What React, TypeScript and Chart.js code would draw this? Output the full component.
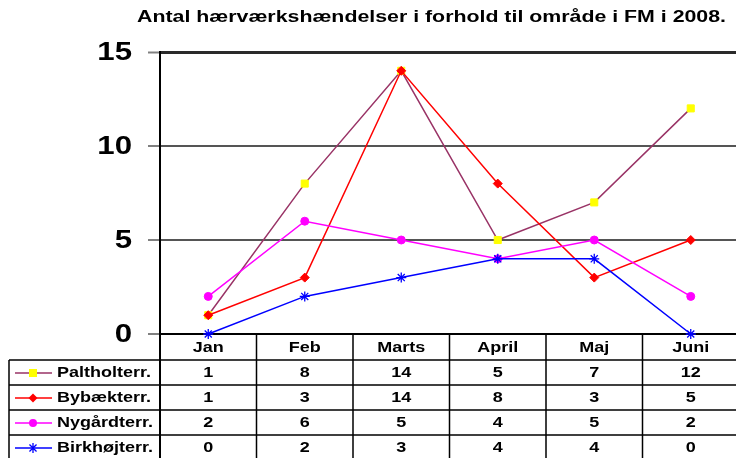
import React, { useEffect, useRef } from 'react';
import { Chart, registerables } from 'chart.js';

Chart.register(...registerables);

const TITLE = 'Antal hærværkshændelser i forhold til område i FM i 2008.';
const MONTHS = ['Jan', 'Feb', 'Marts', 'April', 'Maj', 'Juni'];
const SERIES_NAMES = ['Paltholterr.', 'Bybækterr.', 'Nygårdterr.', 'Birkhøjterr.'];
const PALTHOLT = [1, 8, 14, 5, 7, 12];
const BYBAEK = [1, 3, 14, 8, 3, 5];
const NYGAARD = [2, 6, 5, 4, 5, 2];
const BIRKHOEJ = [0, 2, 3, 4, 4, 0];
const Y_TICKS = [0, 5, 10, 15];

const FONT = '"Liberation Sans", Arial, Helvetica, sans-serif';

const SERIES = [
  { name: SERIES_NAMES[0], data: PALTHOLT, line: '#993366', marker: '#ffff00', style: 'rect', radius: 5, order: 4 },
  { name: SERIES_NAMES[1], data: BYBAEK, line: '#ff0000', marker: '#ff0000', style: 'rectRot', radius: 4.5, order: 3 },
  { name: SERIES_NAMES[2], data: NYGAARD, line: '#ff00ff', marker: '#ff00ff', style: 'circle', radius: 4, order: 2 },
  { name: SERIES_NAMES[3], data: BIRKHOEJ, line: '#0000ff', marker: '#0000ff', style: 'star', radius: 5, order: 1 },
];

// Draws bold text horizontally stretched by sx (the reference uses a wide rendering)
function drawText(
  ctx: CanvasRenderingContext2D,
  text: string,
  x: number,
  y: number,
  size: number,
  align: CanvasTextAlign,
  sx: number
) {
  ctx.save();
  ctx.font = `bold ${size}px ${FONT}`;
  (ctx as any).letterSpacing = '0px';
  ctx.textAlign = align;
  ctx.textBaseline = 'middle';
  ctx.fillStyle = '#000';
  ctx.translate(x, y);
  ctx.scale(sx, 1);
  ctx.fillText(text, 0, 0);
  ctx.restore();
}

function drawMarker(ctx: CanvasRenderingContext2D, style: string, color: string, x: number, y: number) {
  ctx.save();
  ctx.fillStyle = color;
  ctx.strokeStyle = color;
  ctx.lineWidth = 1.3;
  ctx.beginPath();
  if (style === 'rect') {
    ctx.fillRect(x - 4, y - 4, 8, 8);
  } else if (style === 'rectRot') {
    ctx.moveTo(x, y - 4.5);
    ctx.lineTo(x + 4.5, y);
    ctx.lineTo(x, y + 4.5);
    ctx.lineTo(x - 4.5, y);
    ctx.closePath();
    ctx.fill();
  } else if (style === 'circle') {
    ctx.arc(x, y, 4, 0, Math.PI * 2);
    ctx.fill();
  } else {
    const r = 5;
    const d = r * Math.SQRT1_2;
    ctx.moveTo(x, y - r);
    ctx.lineTo(x, y + r);
    ctx.moveTo(x - d, y - d);
    ctx.lineTo(x + d, y + d);
    ctx.moveTo(x - d, y + d);
    ctx.lineTo(x + d, y - d);
    ctx.stroke();
  }
  ctx.restore();
}

const tablePlugin = {
  id: 'tablePlugin',
  afterDraw(chart: any) {
    const ctx: CanvasRenderingContext2D = chart.ctx;
    const xs = chart.scales.x;
    const ys = chart.scales.y;
    const area = chart.chartArea;
    const H = chart.height;
    const W = chart.width;
    ctx.save();
    const SX = 1.2;

    // Title, stretched to the reference width
    ctx.font = `bold 16px ${FONT}`;
    (ctx as any).letterSpacing = '0px';
    const tw = ctx.measureText(TITLE).width;
    const targetW = 589;
    drawText(ctx, TITLE, 137, 18, 16, 'left', targetW / tw);

    // Y tick labels
    Y_TICKS.forEach((v) => {
      drawText(ctx, String(v), 132, ys.getPixelForValue(v) + 1, 26, 'right', SX);
    });

    // Table
    const headerH = 26;
    const rowH = 25;
    const tableLeft = 9;
    const band = (area.right - area.left) / MONTHS.length;
    ctx.strokeStyle = '#000';
    ctx.lineWidth = 1.5;
    ctx.beginPath();
    for (let r = 0; r < SERIES.length; r++) {
      const yy = area.bottom + headerH + r * rowH;
      ctx.moveTo(tableLeft, yy);
      ctx.lineTo(W, yy);
    }
    ctx.moveTo(tableLeft, area.bottom + headerH);
    ctx.lineTo(tableLeft, H);
    for (let k = 1; k <= MONTHS.length; k++) {
      const xx = area.left + k * band;
      ctx.moveTo(xx, area.bottom);
      ctx.lineTo(xx, H);
    }
    ctx.stroke();
    ctx.lineWidth = 2;
    ctx.beginPath();
    ctx.moveTo(area.left, area.bottom);
    ctx.lineTo(area.left, H);
    ctx.stroke();

    // Header labels
    MONTHS.forEach((m, i) => {
      drawText(ctx, m, xs.getPixelForValue(i), area.bottom + headerH / 2 + 1, 15, 'center', SX);
    });

    // Rows
    SERIES.forEach((s, r) => {
      const cy = area.bottom + headerH + r * rowH + rowH / 2 + 0.5;
      ctx.save();
      ctx.strokeStyle = s.line;
      ctx.lineWidth = 1.5;
      ctx.beginPath();
      ctx.moveTo(15, cy);
      ctx.lineTo(52, cy);
      ctx.stroke();
      ctx.restore();
      drawMarker(ctx, s.style, s.marker, 33, cy);
      drawText(ctx, s.name, 57, cy, 15, 'left', SX);
      s.data.forEach((v, i) => {
        drawText(ctx, String(v), xs.getPixelForValue(i), cy, 15, 'center', SX);
      });
    });

    ctx.restore();
  },
};

export default function App() {
  const ref = useRef<HTMLCanvasElement>(null);

  useEffect(() => {
    const canvas = ref.current;
    if (!canvas) return;
    const chart = new Chart(canvas, {
      type: 'line',
      data: {
        labels: MONTHS,
        datasets: SERIES.map((s) => ({
          label: s.name,
          data: s.data,
          borderColor: s.line,
          backgroundColor: s.marker,
          borderWidth: 1.5,
          pointStyle: s.style as any,
          pointRadius: s.radius,
          pointBackgroundColor: s.marker,
          pointBorderColor: s.marker,
          pointBorderWidth: s.style === 'star' ? 1.3 : 1,
          tension: 0,
          fill: false,
          clip: false as any,
          order: s.order,
        })),
      },
      options: {
        responsive: false,
        maintainAspectRatio: false,
        animation: false,
        devicePixelRatio: 1,
        layout: { autoPadding: false, padding: { left: 0, top: 52, right: 3, bottom: 124 } },
        plugins: {
          legend: { display: false },
          title: { display: false },
          tooltip: { enabled: false },
        },
        scales: {
          x: {
            type: 'category',
            offset: true,
            grid: { display: false, drawTicks: false },
            border: { display: false },
            ticks: { display: false },
            afterFit: (s: any) => {
              s.height = 0;
              s.paddingLeft = 0;
              s.paddingRight = 0;
            },
          },
          y: {
            min: 0,
            max: 15,
            ticks: { stepSize: 5, display: false },
            grid: {
              color: (c: any) => (c.tick && c.tick.value === 15 ? '#2a2a2a' : c.tick && c.tick.value === 0 ? '#000' : '#555'),
              lineWidth: (c: any) => (c.tick && c.tick.value === 15 ? 3 : 2),
              tickLength: 12,
              tickColor: '#808080',
              tickWidth: 2,
              drawTicks: true,
            },
            border: { color: '#000', width: 2 },
            afterFit: (s: any) => {
              s.width = 160;
              s.paddingTop = 0;
              s.paddingBottom = 0;
            },
          },
        },
      },
      plugins: [tablePlugin],
    } as any);
    return () => chart.destroy();
  }, []);

  return (
    <div
      style={{
        position: 'absolute',
        left: 0,
        top: 0,
        width: 736,
        height: 458,
        overflow: 'hidden',
        background: '#fff',
      }}
    >
      <div style={{ position: 'relative', width: 742, height: 458 }}>
        <canvas ref={ref} width={742} height={458} style={{ display: 'block', width: 742, height: 458 }} />
      </div>
    </div>
  );
}
